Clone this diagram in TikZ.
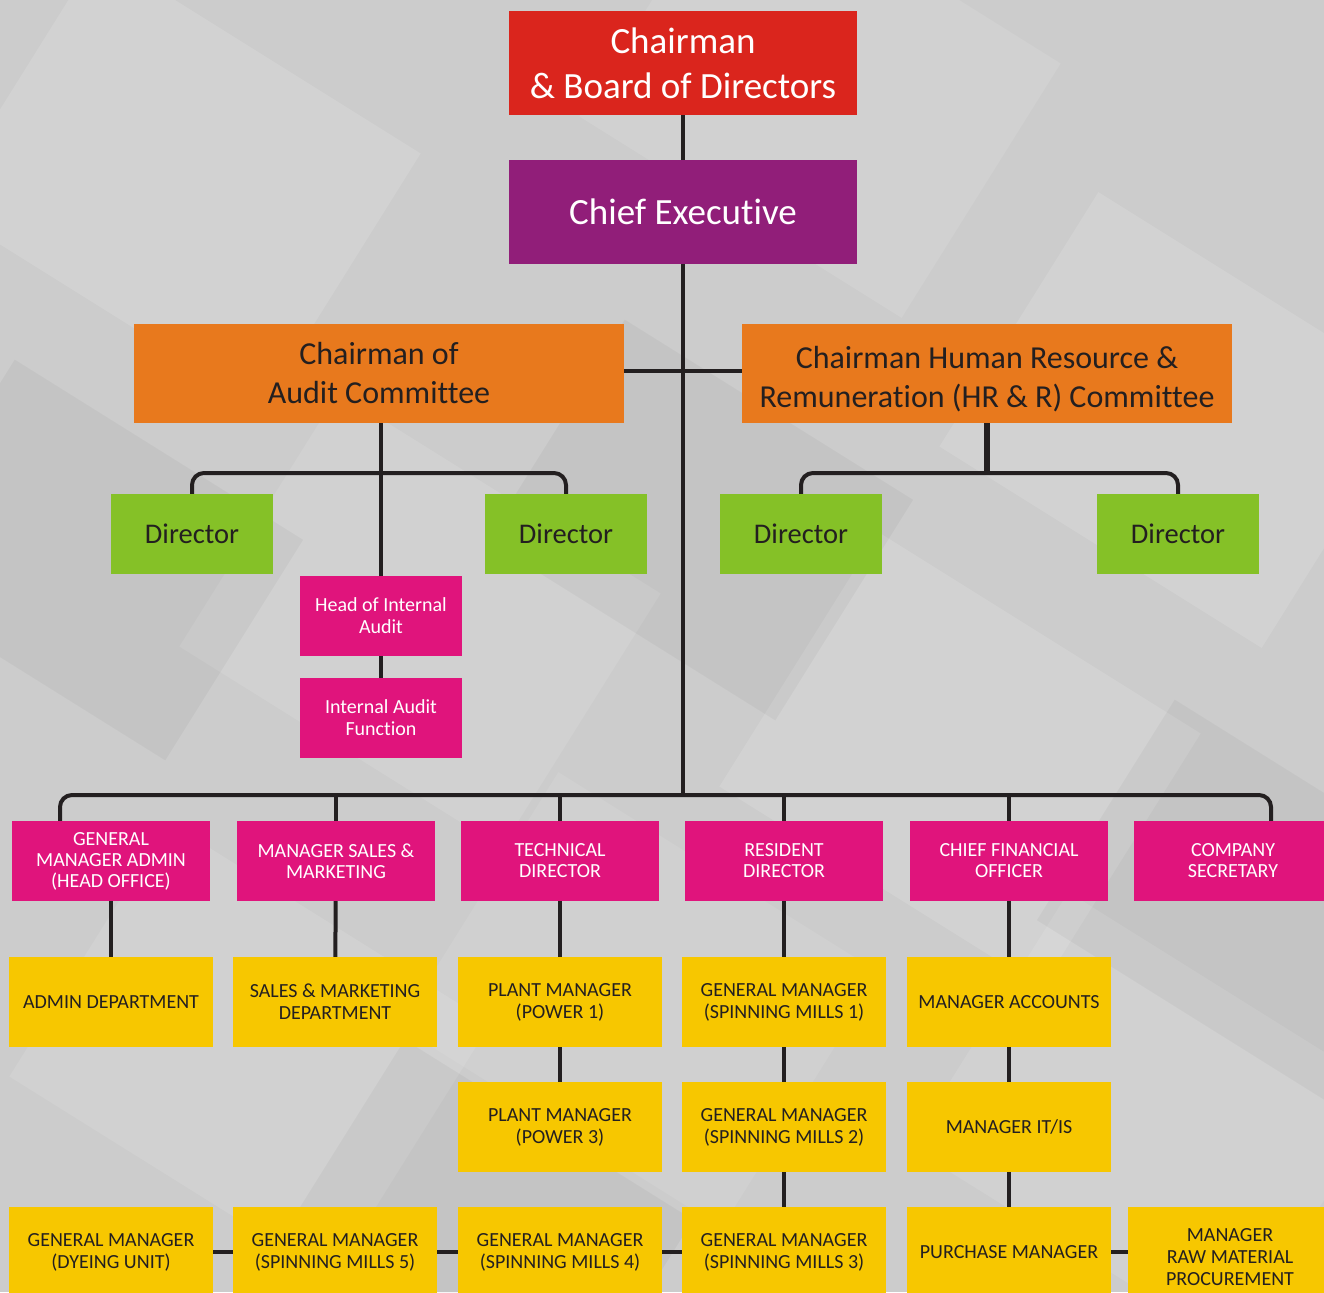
\documentclass[tikz,border=0pt]{standalone}
\usepackage{fontspec}
\setmainfont{Carlito}[Ligatures=NoCommon]
\usetikzlibrary{positioning}
\definecolor{bggray}{RGB}{204,204,204}
\definecolor{chairred}{RGB}{218,37,29}
\definecolor{ceopurple}{RGB}{145,30,121}
\definecolor{commorange}{RGB}{232,121,29}
\definecolor{dirgreen}{RGB}{133,193,39}
\definecolor{unitpink}{RGB}{224,20,124}
\definecolor{staffyellow}{RGB}{247,199,0}
\definecolor{linedark}{RGB}{35,31,32}
\tikzset{
  unit/.style={inner sep=0pt,align=center},
  topbox/.style={unit,minimum width=348pt,minimum height=104pt,text=white,font=\fontsize{37}{45}\selectfont},
  commbox/.style={unit,fill=commorange,text=linedark,minimum width=490pt,minimum height=99pt,font=\fontsize{32}{39}\selectfont},
  dirbox/.style={unit,fill=dirgreen,text=linedark,minimum width=162pt,minimum height=80pt,font=\fontsize{28.5}{34}\selectfont},
  auditbox/.style={unit,fill=unitpink,text=white,minimum width=162pt,minimum height=80pt,font=\fontsize{20}{22}\selectfont},
  deptbox/.style={unit,fill=unitpink,text=white,minimum width=198pt,minimum height=80pt,font=\fontsize{20}{21}\selectfont},
  staffbox/.style={unit,fill=staffyellow,text=linedark,minimum width=204pt,minimum height=90pt,font=\fontsize{20}{22}\selectfont},
  link/.style={draw=linedark,line width=4pt},
  trunk/.style={draw=linedark,line width=6pt}
}

\begin{document}
\begin{tikzpicture}[x=1pt,y=-1pt]
\useasboundingbox (0,0) rectangle (1324,1292);
% backdrop
\fill[bggray] (0,0) rectangle (1324,1292);
\foreach \bx/\by/\op in {180/180/0.12,820/90/0.1,1180/420/0.12,420/620/0.1,960/760/0.12,250/1050/0.1,1150/1120/0.1,640/1000/0.08}{
  \fill[white,opacity=\op,rotate around={-32:(\bx,\by)}] (\bx-190,\by-150) rectangle (\bx+190,\by+150);
}
\foreach \bx/\by in {90/560,700/520,1250/900,480/1240}{
  \fill[black,opacity=0.035,rotate around={-32:(\bx,\by)}] (\bx-170,\by-130) rectangle (\bx+170,\by+130);
}

\node[topbox,fill=chairred] (chair) at (683,63) {Chairman\\\& Board of Directors};
\node[topbox,fill=ceopurple] (ceo) at (683,212) {Chief Executive};
\node[commbox] (audit) at (379,373.5) {Chairman of\\Audit Committee};
\node[commbox] (hrc) at (987,373.5) {\rule{0pt}{34pt}Chairman Human Resource \&\\Remuneration (HR \& R) Committee};

\foreach \nm/\cx in {dira/192,dirb/566,dirc/801,dird/1178}{
  \node[dirbox] (\nm) at (\cx,534) {Director};
}
\node[auditbox] (hia) at (381,616) {Head of Internal\\Audit};
\node[auditbox] (iaf) at (381,718) {Internal Audit\\Function};

\foreach \nm/\cx/\txt in {
gmadmin/111/{GENERAL\\MANAGER ADMIN\\(HEAD OFFICE)},
mgrsales/336/{MANAGER SALES \&\\MARKETING},
techdir/560/{TECHNICAL\\DIRECTOR},
resdir/784/{RESIDENT\\DIRECTOR},
cfo/1009/{CHIEF FINANCIAL\\OFFICER},
cosec/1233/{COMPANY\\SECRETARY}}{
  \node[deptbox] (\nm) at (\cx,861) {\txt};
}

\foreach \nm/\cx/\cy/\txt in {
admindept/111/1002/{ADMIN DEPARTMENT},
salesdept/335/1002/{SALES \& MARKETING\\DEPARTMENT},
pwra/560/1002/{PLANT MANAGER\\(POWER 1)},
sma/784/1002/{GENERAL MANAGER\\(SPINNING MILLS 1)},
accts/1009/1002/{MANAGER ACCOUNTS},
pwrc/560/1127/{PLANT MANAGER\\(POWER 3)},
smb/784/1127/{GENERAL MANAGER\\(SPINNING MILLS 2)},
itis/1009/1127/{MANAGER IT/IS},
dyeing/111/1252/{GENERAL MANAGER\\(DYEING UNIT)},
sme/335/1252/{GENERAL MANAGER\\(SPINNING MILLS 5)},
smd/560/1252/{GENERAL MANAGER\\(SPINNING MILLS 4)},
smc/784/1252/{GENERAL MANAGER\\(SPINNING MILLS 3)},
purch/1009/1252/{PURCHASE MANAGER},
rawmat/1230/1252/{\rule{0pt}{24pt}MANAGER\\RAW MATERIAL\\PROCUREMENT}}{
  \node[staffbox] (\nm) at (\cx,\cy) {\txt};
}

\coordinate (bus) at (683,795);
\coordinate (cross) at (683,371);
\coordinate (abr) at (381,473);
\draw[link] (chair) -- (ceo);
\draw[link] (ceo) -- (ceo |- bus);
\draw[link] (audit.east |- cross) -- (hrc.west |- cross);
\draw[link] (hia.north |- audit.south) -- (hia.north);
\draw[link] (hia) -- (iaf);
\draw[link,rounded corners=12pt] (dira.north) |- (abr) -| (dirb.north);
\draw[trunk] (hrc.south) -- (hrc.south |- abr);
\draw[link,rounded corners=12pt] (dirc.north) |- (hrc.south |- abr) -| (dird.north);
\draw[link,rounded corners=12pt] ([xshift=-51pt]gmadmin.north) |- ([xshift=38pt]cosec.north |- bus) -- ([xshift=38pt]cosec.north);
\foreach \nm in {mgrsales,techdir,resdir,cfo}{
  \draw[link] (\nm.north) -- (\nm.north |- bus);
}
\foreach \up/\dn in {gmadmin/admindept,mgrsales/salesdept,techdir/pwra,pwra/pwrc,resdir/sma,sma/smb,smb/smc,cfo/accts,accts/itis,itis/purch}{
  \draw[link] (\up) -- (\dn);
}
\foreach \lt/\rt in {dyeing/sme,sme/smd,smd/smc,purch/rawmat}{
  \draw[link] (\lt) -- (\rt);
}
\end{tikzpicture}
\end{document}
